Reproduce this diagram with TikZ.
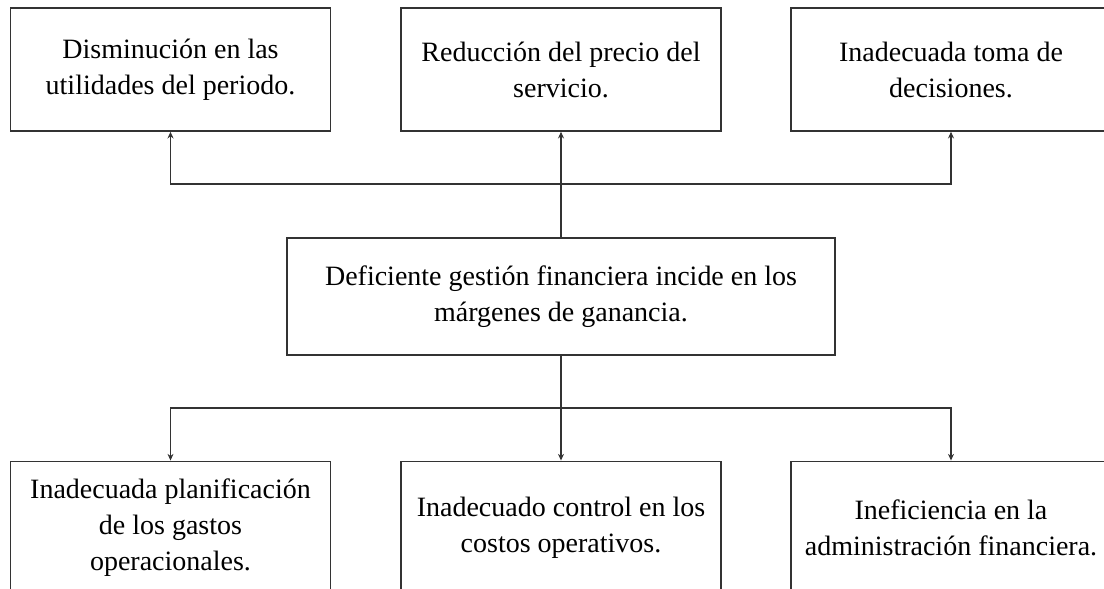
\documentclass[tikz,border=0pt]{standalone}
\usepackage{fontspec}
\setmainfont{Liberation Serif}
\usetikzlibrary{positioning,calc,arrows.meta}

\begin{document}
\begin{tikzpicture}[x=0.75pt,y=-0.75pt,
    caja/.style={rectangle,draw=black!80,line width=1.2pt,minimum width=240pt,minimum height=92.25pt,inner sep=0pt,align=center,font=\fontsize{21}{27}\selectfont},
    linea/.style={draw=black!80,line width=0.9pt},
    flecha/.style={linea,-{Stealth[length=5pt,width=4.5pt]}}]
    \useasboundingbox (0,0) rectangle (1104,589);
    \clip (0,0) rectangle (1104,589);
    % Effects at top
    \node[caja] (ef1) at (170.5,69.5) {Disminución en las\\utilidades del periodo.};
    \node[caja] (ef2) at (561,69.5) {Reducción del precio del\\servicio.};
    \node[caja] (ef3) at (951,69.5) {Inadecuada toma de\\decisiones.};
    % Central problem
    \node[caja,minimum width=411pt,minimum height=87.75pt] (prob) at (561,296.5) {Deficiente gestión financiera incide en los\\márgenes de ganancia.};
    % Causes at bottom
    \node[caja,minimum height=100pt] (ca1) at (170.5,528) {Inadecuada planificación\\de los gastos\\operacionales.};
    \node[caja,minimum height=100pt] (ca2) at (561,528) {Inadecuado control en los\\costos operativos.};
    \node[caja,minimum height=100pt] (ca3) at (951,528) {Ineficiencia en la\\administración financiera.};
    % Connectors
    \coordinate (juntaA) at (561,184);
    \coordinate (juntaB) at (561,408);
    \draw[linea] (prob.north) -- (juntaA);
    \draw[flecha] (juntaA) -- (ef2.south);
    \foreach \n in {ef1,ef3}
        \draw[flecha] (juntaA) -| (\n.south);
    \draw[linea] (prob.south) -- (juntaB);
    \foreach \n in {ca1,ca2,ca3}
        \draw[flecha] (juntaB) -| (\n.north);
\end{tikzpicture}
\end{document}
